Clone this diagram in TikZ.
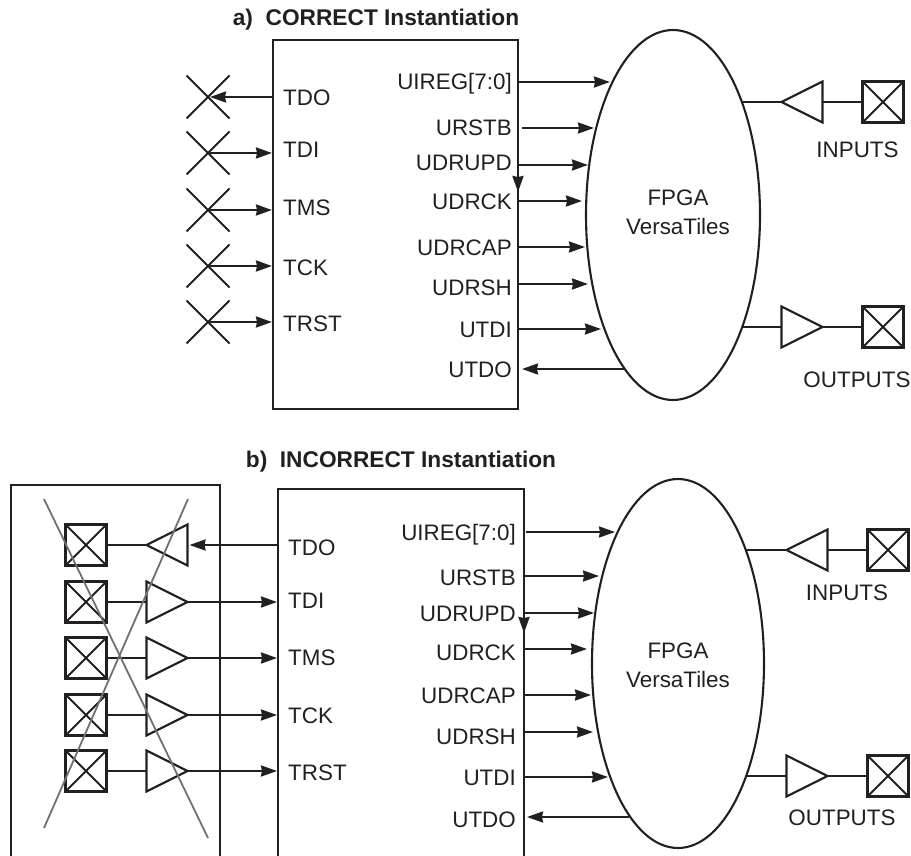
\documentclass[tikz,border=0pt]{standalone}
\usepackage{fontspec}
\setmainfont{Liberation Sans}
\usetikzlibrary{arrows.meta,positioning,shapes.geometric,shapes.misc}
\definecolor{ink}{HTML}{231F20}
\definecolor{strike}{HTML}{6F7072}

\begin{document}
\begin{tikzpicture}[
  x=1pt, y=-1pt,
  font=\fontsize{22.4}{29}\selectfont,
  >={Stealth[length=16pt, width=11pt, inset=1pt]},
  wire/.style={draw=ink, line width=2.1pt},
  arr/.style={wire, ->},
  core/.style={rectangle, wire, minimum width=245pt, minimum height=369pt, anchor=north west, inner sep=0pt, outer sep=0pt},
  side/.style={rectangle, anchor=north west, inner sep=0pt, outer sep=0pt},
  fpga/.style={ellipse, wire, inner sep=0pt, outer sep=0pt, minimum width=174pt, minimum height=370pt},
  nopin/.style={cross out, wire, minimum size=43pt, inner sep=0pt, outer sep=0pt},
  pad/.style={rectangle, wire, minimum size=41pt, inner sep=0pt, outer sep=0pt,
              path picture={\draw[wire] (path picture bounding box.north west) -- (path picture bounding box.south east)
                (path picture bounding box.south west) -- (path picture bounding box.north east);}},
  buf/.style={isosceles triangle, isosceles triangle stretches, wire, inner sep=0pt, outer sep=0pt,
              minimum width=41pt, minimum height=41pt},
  bufout/.style={buf, shape border rotate=0},
  bufin/.style={buf, shape border rotate=180},
  sig/.style={inner sep=0pt, text=ink, text height=16pt, text depth=0pt},
  core text/.style={align=center, inner sep=0pt, text=ink},
  hdr/.style={sig, font=\fontsize{22.7}{29}\selectfont\bfseries},
  cancel/.style={draw=strike, line width=1.8pt},
]
\useasboundingbox (0,0) rectangle (911,856);

% ---------------------------------------------------------------- a) correct
\node[core] (coreA) at (273,40) {};
\node[fpga] (fpgaA) at (673,215) {};
\node[core text] (fpgaAl) at (678,212.5) {FPGA\\VersaTiles};
\node[hdr, above=14pt of coreA.north, xshift=-19.5pt] (hdrA) {a)\ \ CORRECT Instantiation};

\node[nopin] (tdoAx) at (208,97) {};
\node[nopin, below=13pt of tdoAx] (tdiAx) {};
\node[nopin, below=14pt of tdiAx] (tmsAx) {};
\node[nopin, below=13pt of tmsAx] (tckAx) {};
\node[nopin, below=13pt of tckAx] (trstAx) {};

\coordinate (tdoA) at (coreA.west |- tdoAx);
\coordinate (tdiA) at (coreA.west |- tdiAx);
\coordinate (tmsA) at (coreA.west |- tmsAx);
\coordinate (tckA) at (coreA.west |- tckAx);
\coordinate (trstA) at (coreA.west |- trstAx);

\node[sig, right=10pt of tdoA, yshift=-1pt] (tdoAl) {TDO};
\node[sig, right=10pt of tdiA, yshift=3pt] (tdiAl) {TDI};
\node[sig, right=10pt of tmsA, yshift=3pt] (tmsAl) {TMS};
\node[sig, right=10pt of tckA, yshift=-1pt] (tckAl) {TCK};
\node[sig, right=10pt of trstA, yshift=-1pt] (trstAl) {TRST};

\draw[arr, shorten >=2pt] (tdoA) -- (tdoAx.center);
\draw[arr, shorten >=1pt] (tdiAx.center) -- (tdiA);
\draw[arr, shorten >=1pt] (tmsAx.center) -- (tmsA);
\draw[arr, shorten >=1pt] (tckAx.center) -- (tckA);
\draw[arr, shorten >=1pt] (trstAx.center) -- (trstA);

\coordinate[below=42pt of coreA.north east] (uiregA);
\coordinate[below=88pt of coreA.north east] (urstbA);
\coordinate[below=125pt of coreA.north east] (udrupdA);
\coordinate[below=161pt of coreA.north east] (udrckA);
\coordinate[below=207pt of coreA.north east] (udrcapA);
\coordinate[below=244pt of coreA.north east] (udrshA);
\coordinate[below=289pt of coreA.north east] (utdiA);
\coordinate[below=329pt of coreA.north east] (utdoA);

\node[sig, left=6pt of uiregA] (uiregAl) {UIREG[7:0]};
\node[sig, left=6pt of urstbA] (urstbAl) {URSTB};
\node[sig, left=6pt of udrupdA, yshift=2pt] (udrupdAl) {UDRUPD};
\node[sig, left=6pt of udrckA, yshift=-1pt] (udrckAl) {UDRCK};
\node[sig, left=6pt of udrcapA] (udrcapAl) {UDRCAP};
\node[sig, left=6pt of udrshA, yshift=-3pt] (udrshAl) {UDRSH};
\node[sig, left=6pt of utdiA] (utdiAl) {UTDI};
\node[sig, left=6pt of utdoA] (utdoAl) {UTDO};

\coordinate[right=92pt of uiregA] (uiregAe);
\coordinate[right=76pt of urstbA] (urstbAe);
\coordinate[right=70pt of udrupdA] (udrupdAe);
\coordinate[right=64pt of udrckA] (udrckAe);
\coordinate[right=67pt of udrcapA] (udrcapAe);
\coordinate[right=70pt of udrshA] (udrshAe);
\coordinate[right=83pt of utdiA] (utdiAe);
\coordinate[right=107pt of utdoA] (utdoAe);
\coordinate[below=27pt of udrupdA] (kinkA);

\draw[arr] (uiregA) -- (uiregAe);
\draw[arr] ([xshift=4pt]urstbA) -- (urstbAe);
\draw[arr] (udrupdA) -- (udrupdAe);
\draw[arr] (udrupdA) -- (kinkA);
\draw[arr] (udrckA) -- (udrckAe);
\draw[arr] (udrcapA) -- (udrcapAe);
\draw[arr] (udrshA) -- (udrshAe);
\draw[arr] (utdiA) -- (utdiAe);
\draw[arr] (utdoAe) -- ([xshift=4pt]utdoA);

\node[pad] (inApad) at (883,102) {};
\node[bufin, left=40pt of inApad] (inAbuf) {};
\node[pad] (outApad) at (883,327) {};
\node[bufout, left=40pt of outApad] (outAbuf) {};
\node[sig, below=19pt of inApad, xshift=-25.5pt] (inAl) {INPUTS};
\node[sig, below=24pt of outApad, xshift=-26pt] (outAl) {OUTPUTS};

\draw[wire] (inApad) -- (inAbuf);
\draw[wire] (inAbuf.west) -- (inAbuf.west -| fpgaA.58.6);
\draw[wire] (outApad) -- (outAbuf.east);
\draw[wire] (outAbuf.west) -- (outAbuf.west -| fpgaA.-58.3);

% -------------------------------------------------------------- b) incorrect
\node[side, minimum width=246pt, minimum height=367pt] (coreB) at (278,489) {};
\draw[wire] (coreB.south west) -- (coreB.north west) -- (coreB.north east) -- (coreB.south east);
\node[fpga, minimum width=172pt, minimum height=369pt] (fpgaB) at (678,663.5) {};
\node[core text] (fpgaBl) at (678,665) {FPGA\\VersaTiles};
\node[hdr, above=21pt of coreB.north] (hdrB) {b)\ \ INCORRECT Instantiation};

\node[side, minimum width=209pt, minimum height=371pt] (sideB) at (11,485) {};
\draw[wire] (sideB.south west) -- (sideB.north west) -- (sideB.north east) -- (sideB.south east);

\node[pad] (tdoBpad) at (86,545) {};
\node[pad, below=16pt of tdoBpad] (tdiBpad) {};
\node[pad, below=15pt of tdiBpad] (tmsBpad) {};
\node[pad, below=16pt of tmsBpad] (tckBpad) {};
\node[pad, below=15pt of tckBpad] (trstBpad) {};

\node[bufin, right=40pt of tdoBpad] (tdoBbuf) {};
\node[bufout, right=40pt of tdiBpad] (tdiBbuf) {};
\node[bufout, right=40pt of tmsBpad] (tmsBbuf) {};
\node[bufout, right=40pt of tckBpad] (tckBbuf) {};
\node[bufout, right=40pt of trstBpad] (trstBbuf) {};

\draw[wire] (tdoBpad) -- (tdoBbuf.west);
\draw[wire] (tdiBpad) -- (tdiBbuf.west);
\draw[wire] (tmsBpad) -- (tmsBbuf.west);
\draw[wire] (tckBpad) -- (tckBbuf.west);
\draw[wire] (trstBpad) -- (trstBbuf.west);

\coordinate (tdoB) at (coreB.west |- tdoBpad);
\coordinate (tdiB) at (coreB.west |- tdiBpad);
\coordinate (tmsB) at (coreB.west |- tmsBpad);
\coordinate (tckB) at (coreB.west |- tckBpad);
\coordinate (trstB) at (coreB.west |- trstBpad);

\node[sig, right=10pt of tdoB, yshift=-2pt] (tdoBl) {TDO};
\node[sig, right=10pt of tdiB, yshift=2pt] (tdiBl) {TDI};
\node[sig, right=10pt of tmsB, yshift=1pt] (tmsBl) {TMS};
\node[sig, right=10pt of tckB] (tckBl) {TCK};
\node[sig, right=10pt of trstB, yshift=-1pt] (trstBl) {TRST};

\draw[arr, shorten >=2pt] (tdoB) -- (tdoBbuf.east);
\draw[arr, shorten >=1pt] (tdiBbuf.east) -- (tdiB);
\draw[arr, shorten >=1pt] (tmsBbuf.east) -- (tmsB);
\draw[arr, shorten >=1pt] (tckBbuf.east) -- (tckB);
\draw[arr, shorten >=1pt] (trstBbuf.east) -- (trstB);

\coordinate[below=43pt of coreB.north east] (uiregB);
\coordinate[below=87pt of coreB.north east] (urstbB);
\coordinate[below=124pt of coreB.north east] (udrupdB);
\coordinate[below=160pt of coreB.north east] (udrckB);
\coordinate[below=206pt of coreB.north east] (udrcapB);
\coordinate[below=243pt of coreB.north east] (udrshB);
\coordinate[below=288pt of coreB.north east] (utdiB);
\coordinate[below=328pt of coreB.north east] (utdoB);

\node[sig, left=8pt of uiregB] (uiregBl) {UIREG[7:0]};
\node[sig, left=8pt of urstbB, yshift=-1pt] (urstbBl) {URSTB};
\node[sig, left=8pt of udrupdB] (udrupdBl) {UDRUPD};
\node[sig, left=8pt of udrckB, yshift=-3pt] (udrckBl) {UDRCK};
\node[sig, left=8pt of udrcapB] (udrcapBl) {UDRCAP};
\node[sig, left=8pt of udrshB, yshift=-4pt] (udrshBl) {UDRSH};
\node[sig, left=8pt of utdiB] (utdiBl) {UTDI};
\node[sig, left=8pt of utdoB, yshift=-2pt] (utdoBl) {UTDO};

\coordinate[right=91pt of uiregB] (uiregBe);
\coordinate[right=75pt of urstbB] (urstbBe);
\coordinate[right=70pt of udrupdB] (udrupdBe);
\coordinate[right=63pt of udrckB] (udrckBe);
\coordinate[right=67pt of udrcapB] (udrcapBe);
\coordinate[right=69pt of udrshB] (udrshBe);
\coordinate[right=84pt of utdiB] (utdiBe);
\coordinate[right=105pt of utdoB] (utdoBe);
\coordinate[below=20pt of udrupdB] (kinkB);

\draw[arr] ([xshift=2pt]uiregB) -- (uiregBe);
\draw[arr] (urstbB) -- (urstbBe);
\draw[arr] (udrupdB) -- (udrupdBe);
\draw[arr] (udrupdB) -- (kinkB);
\draw[arr] (udrckB) -- (udrckBe);
\draw[arr] (udrcapB) -- (udrcapBe);
\draw[arr] (udrshB) -- (udrshBe);
\draw[arr] (utdiB) -- (utdiBe);
\draw[arr] (utdoBe) -- ([xshift=3pt]utdoB);

\node[pad] (inBpad) at (888,550) {};
\node[bufin, left=40pt of inBpad] (inBbuf) {};
\node[pad] (outBpad) at (888,776) {};
\node[bufout, left=40pt of outBpad] (outBbuf) {};
\node[sig, below=14pt of inBpad, xshift=-41pt] (inBl) {INPUTS};
\node[sig, below=13pt of outBpad, xshift=-46pt] (outBl) {OUTPUTS};

\draw[wire] (inBpad) -- (inBbuf);
\draw[wire] (inBbuf.west) -- (inBbuf.west -| fpgaB.59.2);
\draw[wire] (outBpad) -- (outBbuf.east);
\draw[wire] (outBbuf.west) -- (outBbuf.west -| fpgaB.-58.9);

% the grey strokes cancel the whole left block
\coordinate (cutAs) at (44,499);
\coordinate (cutAe) at (208,838);
\coordinate (cutBs) at (188,499);
\coordinate (cutBe) at (44,828);
\draw[cancel] (cutAs) -- (cutAe);
\draw[cancel] (cutBs) -- (cutBe);
\end{tikzpicture}
\end{document}
